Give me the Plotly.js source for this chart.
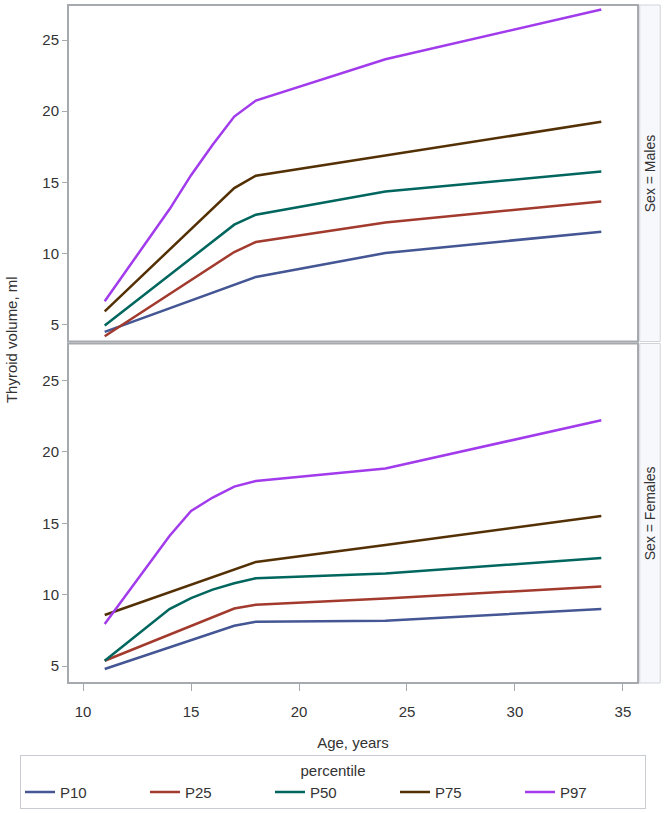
<!DOCTYPE html>
<html>
<head>
<meta charset="utf-8">
<script src="https://cdn.plot.ly/plotly-3.0.1.min.js"></script>
<style>html,body{margin:0;padding:0;background:#fff}#chart{width:664px;height:813px}</style>
</head>
<body>
<div id="chart"></div>
<script>
const ages = [11, 14, 15, 16, 17, 18, 24, 34];
const percentiles = ["P10", "P25", "P50", "P75", "P97"];
const colors = ["#445694", "#A23A2E", "#01665E", "#543005", "#A23BEC"];

const males_P10 = [4.49, 6.15, 6.7, 7.25, 7.8, 8.35, 10.03, 11.53];
const males_P25 = [4.18, 7.14, 8.13, 9.1, 10.1, 10.8, 12.18, 13.65];
const males_P50 = [4.93, 8.5, 9.7, 10.85, 12.02, 12.72, 14.35, 15.76];
const males_P75 = [5.93, 10.26, 11.7, 13.2, 14.59, 15.46, 16.88, 19.25];
const males_P97 = [6.64, 13.1, 15.5, 17.63, 19.62, 20.74, 23.65, 27.15];

const females_P10 = [4.79, 6.3, 6.81, 7.31, 7.82, 8.1, 8.17, 8.99];
const females_P25 = [5.37, 7.2, 7.81, 8.42, 9.03, 9.29, 9.73, 10.57];
const females_P50 = [5.37, 8.99, 9.75, 10.35, 10.8, 11.15, 11.48, 12.57];
const females_P75 = [8.57, 10.17, 10.7, 11.23, 11.76, 12.29, 13.47, 15.51];
const females_P97 = [7.94, 14.11, 15.86, 16.8, 17.57, 17.96, 18.83, 22.22];

const yTicks = [5, 10, 15, 20, 25];
const xTicks = [10, 15, 20, 25, 30, 35];

const males = [males_P10, males_P25, males_P50, males_P75, males_P97];
const females = [females_P10, females_P25, females_P50, females_P75, females_P97];

const traces = [];
percentiles.forEach((p, i) => {
  traces.push({x: ages, y: males[i], xaxis: 'x', yaxis: 'y', mode: 'lines', name: p,
    legendgroup: p, showlegend: true, line: {color: colors[i], width: 2.5}});
});
percentiles.forEach((p, i) => {
  traces.push({x: ages, y: females[i], xaxis: 'x', yaxis: 'y2', mode: 'lines', name: p,
    legendgroup: p, showlegend: false, line: {color: colors[i], width: 2.5}});
});

const frame = '#A6A9AE';
const font = {family: 'Liberation Sans, Arial, sans-serif', size: 15, color: '#333'};
const topDom = [0.5037, 1];
const botDom = [0, 0.5007];

const layout = {
  width: 664, height: 813,
  margin: {l: 68, r: 26, t: 5, b: 129},
  paper_bgcolor: '#fff', plot_bgcolor: '#fff',
  font: font,
  showlegend: true,
  xaxis: {range: [9.3, 35.7], anchor: 'y2', tickvals: xTicks, ticks: 'outside', ticklen: 7,
    tickcolor: frame, tickwidth: 1, showgrid: false, zeroline: false, showline: false,
    ticklabelstandoff: 8,
    tickfont: font, title: {text: 'Age, years', font: font, standoff: 18}},
  yaxis: {domain: topDom, range: [3.81, 27.46], anchor: 'x', tickvals: yTicks, ticks: 'outside',
    ticklen: 5, tickcolor: frame, showgrid: false, zeroline: false, showline: false, tickfont: font},
  yaxis2: {domain: botDom, range: [3.81, 27.59], anchor: 'x', tickvals: yTicks, ticks: 'outside',
    ticklen: 5, tickcolor: frame, showgrid: false, zeroline: false, showline: false, tickfont: font},
  legend: {orientation: 'h', x: -0.0842, xanchor: 'left', y: -0.105, yanchor: 'top',
    bgcolor: '#fff', bordercolor: '#C8CBD0', borderwidth: 1, font: font,
    entrywidth: 80, entrywidthmode: 'pixels', tracegroupgap: 0,
    title: {text: 'percentile', side: 'top center', font: font}},
  shapes: [
    {type: 'rect', xref: 'paper', yref: 'paper', x0: 1.003, x1: 1.039, y0: topDom[0], y1: topDom[1],
      fillcolor: '#F7F8FC', line: {color: '#D0D3D8', width: 1}, layer: 'below'},
    {type: 'rect', xref: 'paper', yref: 'paper', x0: 1.003, x1: 1.039, y0: botDom[0], y1: botDom[1],
      fillcolor: '#F7F8FC', line: {color: '#D0D3D8', width: 1}, layer: 'below'},
    {type: 'rect', xref: 'paper', yref: 'paper', x0: 0, x1: 1, y0: topDom[0], y1: topDom[1],
      line: {color: frame, width: 2}},
    {type: 'rect', xref: 'paper', yref: 'paper', x0: 0, x1: 1, y0: botDom[0], y1: botDom[1],
      line: {color: frame, width: 2}}
  ],
  annotations: [
    {text: 'Sex = Males', xref: 'paper', yref: 'paper', x: 1.021, y: (topDom[0] + topDom[1]) / 2,
      xanchor: 'center', yanchor: 'middle',
      showarrow: false, textangle: -90, font: {family: font.family, size: 14, color: '#333'}},
    {text: 'Sex = Females', xref: 'paper', yref: 'paper', x: 1.021, y: (botDom[0] + botDom[1]) / 2,
      xanchor: 'center', yanchor: 'middle',
      showarrow: false, textangle: -90, font: {family: font.family, size: 14, color: '#333'}},
    {text: 'Thyroid volume, ml', xref: 'paper', yref: 'paper', x: -0.098, y: 0.506,
      xanchor: 'center', yanchor: 'middle',
      showarrow: false, textangle: -90, font: font}
  ]
};

Plotly.newPlot('chart', traces, layout, {displayModeBar: false, staticPlot: true});
</script>
</body>
</html>
